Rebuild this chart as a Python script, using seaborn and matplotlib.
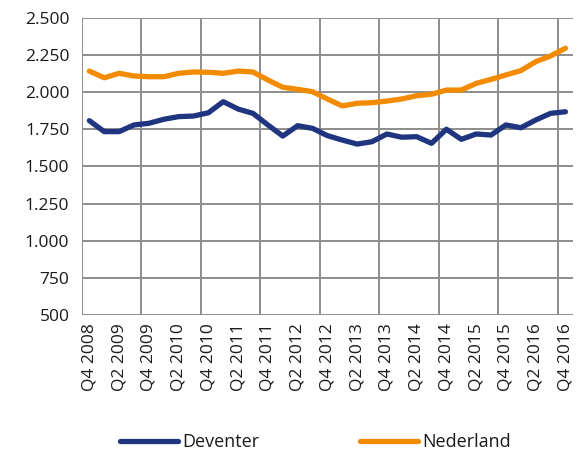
import numpy as np
import pandas as pd
import matplotlib
matplotlib.use("Agg")
import matplotlib.pyplot as plt
import seaborn as sns
from matplotlib.ticker import FuncFormatter, FixedLocator

quarters = [f"Q{q} {y}" for y in range(2008, 2017) for q in (1, 2, 3, 4)][3:]

deventer = [1809, 1735, 1735, 1780, 1791, 1818, 1836, 1840, 1862, 1937, 1887,
            1858, 1780, 1705, 1775, 1757, 1708, 1678, 1651, 1667, 1719, 1697,
            1701, 1656, 1751, 1683, 1719, 1712, 1780, 1761, 1813, 1858, 1869]
nederland = [2143, 2098, 2128, 2110, 2105, 2105, 2128, 2137, 2135, 2128, 2143,
             2137, 2083, 2034, 2020, 2004, 1955, 1908, 1926, 1930, 1941, 1955,
             1977, 1987, 2015, 2015, 2060, 2087, 2117, 2146, 2206, 2245, 2297]

df = pd.DataFrame({"idx": range(len(quarters)), "kwartaal": quarters,
                   "Deventer": deventer, "Nederland": nederland})
long_df = df.melt(id_vars=["idx", "kwartaal"], var_name="regio", value_name="waarde")

sns.set_style("white")
plt.rcParams['font.family'] = ['Open Sans', 'DejaVu Sans']

fig = plt.figure(figsize=(5.81, 4.53), dpi=100)
ax = fig.add_axes([0.141, 0.305, 0.845, 0.655])

grid_col = "#8c8c8c"
# grid lines
for y in range(500, 2501, 250):
    ax.axhline(y, color=grid_col, lw=1.4, zorder=0)
for x in np.arange(-0.5, 32, 4):
    ax.axvline(x, color=grid_col, lw=1.4, zorder=0)

sns.lineplot(data=long_df, x="idx", y="waarde", hue="regio",
             palette={"Deventer": "#1f3580", "Nederland": "#f28b00"},
             linewidth=3.8, ax=ax, zorder=3)

ax.set_xlim(-0.5, 32.5)
ax.set_ylim(500, 2500)
ax.set_yticks(range(500, 2501, 250))
ax.yaxis.set_major_formatter(FuncFormatter(lambda v, p: f"{int(v):,}".replace(",", ".")))
ax.set_xticks(range(0, 33, 2))
ax.set_xticklabels(quarters[::2], rotation=90)
ax.xaxis.set_minor_locator(FixedLocator(np.arange(-0.5, 32, 4)))
ax.tick_params(axis="x", which="major", length=0, pad=6, labelsize=12.5, labelcolor="#1a1a1a")
ax.tick_params(axis="x", which="minor", length=5, color=grid_col, width=1.4)
ax.tick_params(axis="y", length=5, color=grid_col, width=1.4, labelsize=12.5, pad=4, labelcolor="#1a1a1a")
ax.set_xlabel("")
ax.set_ylabel("")
for s in ["top", "right", "bottom", "left"]:
    ax.spines[s].set_visible(False)

handles, labels = ax.get_legend_handles_labels()
leg = ax.legend(handles, labels, loc="center", bbox_to_anchor=(0.543, 0.024),
                bbox_transform=fig.transFigure, ncol=2, frameon=False, fontsize=13,
                handlelength=3.2, handletextpad=0.25, columnspacing=5.6)
for t in leg.get_texts():
    t.set_color("#1a1a1a")
for h in leg.get_lines():
    h.set_solid_capstyle("round")

fig.savefig("out.png", dpi=100)
